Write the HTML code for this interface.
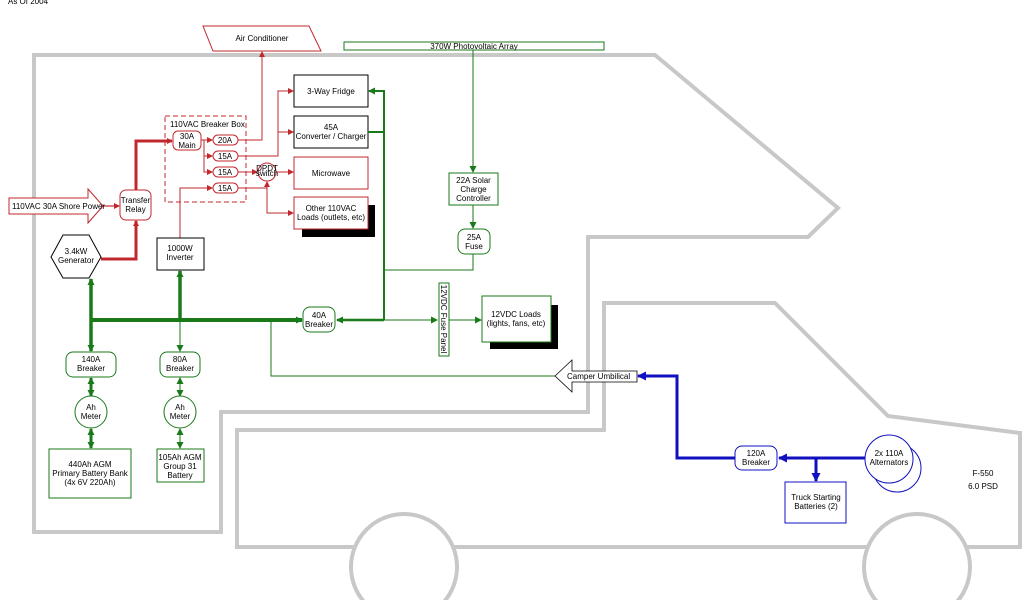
<!DOCTYPE html>
<html><head><meta charset="utf-8"><style>
html,body{margin:0;padding:0;background:#fff;width:1024px;height:600px;overflow:hidden}
svg{display:block}
text{font-family:"Liberation Sans",sans-serif;font-size:8px;fill:#000}
</style></head><body>
<svg width="1024" height="600" viewBox="0 0 1024 600">
<defs>
<marker id="ar" markerWidth="6" markerHeight="6" refX="5" refY="3" orient="auto" markerUnits="userSpaceOnUse"><path d="M0,0 L6,3 L0,6z" fill="#c0282d"/></marker>
<marker id="ag" markerWidth="7" markerHeight="7" refX="6" refY="3.5" orient="auto" markerUnits="userSpaceOnUse"><path d="M0,0 L7,3.5 L0,7z" fill="#1a7a1a"/></marker>
<marker id="ab" markerWidth="9" markerHeight="9" refX="8" refY="4.5" orient="auto" markerUnits="userSpaceOnUse"><path d="M0,0 L9,4.5 L0,9z" fill="#1010c0"/></marker>
</defs>
<text x="8" y="4" font-size="10">As Of 2004</text>
<g fill="none" stroke="#c8c8c8" stroke-width="4">
<path d="M34,55 L655,55 L838,208 L808,237 L588,237 L588,412 L221,412 L221,532 L34,532 Z"/>
<path d="M237,430 L604,430 L604,303 L775,303 L888,416 L1020,433 L1020,547 L237,547 Z"/>
</g>
<circle cx="404" cy="567" r="53" fill="#fff" stroke="#c8c8c8" stroke-width="4"/>
<circle cx="917" cy="567" r="53" fill="#fff" stroke="#c8c8c8" stroke-width="4"/>
<g fill="none" stroke="#c0282d">
<path d="M103,206 L119,206" stroke-width="1.2" marker-end="url(#ar)"/>
<path d="M101,259 L136,259 L136,221" stroke-width="3" marker-end="url(#ar)"/>
<path d="M136,190 L136,141 L172,141" stroke-width="3" marker-end="url(#ar)"/>
<path d="M201,140 L212,140" marker-end="url(#ar)"/>
<path d="M204,140 L204,172 L212,172" marker-end="url(#ar)"/>
<path d="M204,156 L212,156" marker-end="url(#ar)"/>
<path d="M238,140 L262,140 L262,52" marker-end="url(#ar)"/>
<path d="M238,156 L278,156 L278,91 L293,91" marker-end="url(#ar)"/>
<path d="M278,132 L293,132" marker-end="url(#ar)"/>
<path d="M238,172 L257,172" marker-end="url(#ar)"/>
<path d="M276,172 L293,172" marker-end="url(#ar)"/>
<path d="M180,238 L180,188 L212,188" marker-end="url(#ar)"/>
<path d="M238,188 L267,188 L267,182" marker-end="url(#ar)"/>
<path d="M267,188 L267,213 L293,213" marker-end="url(#ar)"/>
</g>
<polygon points="203,26 309,26 321,51 213,51" fill="#fff" stroke="#c0282d"/>
<text x="262" y="41" text-anchor="middle">Air Conditioner</text>
<rect x="165" y="116" width="81" height="86" fill="none" stroke="#c0282d" stroke-dasharray="5,3"/>
<text x="170" y="127">110VAC Breaker Box</text>
<rect x="173" y="131" width="28" height="19" rx="5" fill="#fff" stroke="#c0282d"/>
<text x="187" y="139" text-anchor="middle">30A</text><text x="187" y="148" text-anchor="middle">Main</text>
<g fill="#fff" stroke="#c0282d">
<rect x="213" y="135" width="25" height="10" rx="5"/><rect x="213" y="151" width="25" height="10" rx="5"/>
<rect x="213" y="167" width="25" height="10" rx="5"/><rect x="213" y="183" width="25" height="10" rx="5"/>
</g>
<text x="225" y="143" text-anchor="middle">20A</text><text x="225" y="159" text-anchor="middle">15A</text>
<text x="225" y="175" text-anchor="middle">15A</text><text x="225" y="191" text-anchor="middle">15A</text>
<path d="M9,198 L88,198 L88,189 L103,206 L88,223 L88,214 L9,214 Z" fill="#fff" stroke="#c0282d"/>
<text x="12" y="209" font-size="7.6">110VAC 30A Shore Power</text>
<rect x="120" y="190" width="31" height="30" rx="6" fill="#fff" stroke="#c0282d"/>
<text x="135.5" y="203" text-anchor="middle" font-size="7.5">Transfer</text><text x="135.5" y="212" text-anchor="middle" font-size="7.5">Relay</text>
<circle cx="267" cy="172" r="9" fill="#fff" stroke="#c0282d"/>
<text x="267" y="171" text-anchor="middle" font-size="4">DPDT</text><text x="267" y="176" text-anchor="middle" font-size="4">switch</text>
<rect x="294" y="75" width="74" height="32" fill="#fff" stroke="#000"/>
<text x="331" y="94" text-anchor="middle">3-Way Fridge</text>
<rect x="294" y="116" width="74" height="32" fill="#fff" stroke="#000"/>
<text x="331" y="130" text-anchor="middle">45A</text><text x="331" y="139" text-anchor="middle">Converter / Charger</text>
<rect x="294" y="157" width="74" height="32" fill="#fff" stroke="#c0282d"/>
<text x="331" y="176" text-anchor="middle">Microwave</text>
<rect x="302" y="205" width="73" height="32" fill="#000"/>
<rect x="294" y="197" width="74" height="32" fill="#fff" stroke="#c0282d"/>
<text x="331" y="211" text-anchor="middle">Other 110VAC</text><text x="331" y="220" text-anchor="middle">Loads (outlets, etc)</text>
<polygon points="63,235 89,235 101,257 89,278 63,278 51,257" fill="#fff" stroke="#000"/>
<text x="76" y="254" text-anchor="middle">3.4kW</text><text x="76" y="263" text-anchor="middle">Generator</text>
<rect x="157" y="238" width="47" height="32" fill="#fff" stroke="#000"/>
<text x="180" y="251" text-anchor="middle">1000W</text><text x="180" y="260" text-anchor="middle">Inverter</text>
<g fill="none" stroke="#1a7a1a">
<path d="M473,50 L473,172" marker-end="url(#ag)"/>
<path d="M473,205 L473,228" marker-end="url(#ag)"/>
<path d="M473,254 L473,270 L384,270"/>
<path d="M368,132 L384,132" stroke-width="2"/>
<path d="M384,320 L384,91 L369,91" stroke-width="2" marker-end="url(#ag)"/>
<path d="M384,320 L337,320" stroke-width="2.5" marker-end="url(#ag)"/>
<path d="M384,320 L437,320" marker-end="url(#ag)"/>
<path d="M449,320 L481,320" marker-end="url(#ag)"/>
<path d="M91,320 L302,320" stroke-width="4" marker-end="url(#ag)"/>
<path d="M91,320 L91,279" stroke-width="3.5" marker-end="url(#ag)"/>
<path d="M91,320 L91,351" stroke-width="3.5" marker-end="url(#ag)"/>
<path d="M180,320 L180,271" stroke-width="3.5" marker-end="url(#ag)"/>
<path d="M180,320 L180,351" marker-end="url(#ag)"/>
<path d="M91,388 L91,378" stroke-width="3" marker-end="url(#ag)"/>
<path d="M91,386 L91,396" stroke-width="3" marker-end="url(#ag)"/>
<path d="M91,438 L91,429" stroke-width="3" marker-end="url(#ag)"/>
<path d="M91,436 L91,448" stroke-width="3" marker-end="url(#ag)"/>
<path d="M180,388 L180,378" marker-end="url(#ag)"/>
<path d="M180,386 L180,396" marker-end="url(#ag)"/>
<path d="M180,438 L180,429" marker-end="url(#ag)"/>
<path d="M180,436 L180,448" marker-end="url(#ag)"/>
<path d="M271,320 L271,376 L555,376"/>
</g>
<rect x="344" y="42" width="260" height="8" fill="#fff" stroke="#1a7a1a"/>
<text x="474" y="49" text-anchor="middle">370W Photovoltaic Array</text>
<rect x="449" y="173" width="49" height="32" fill="#fff" stroke="#1a7a1a"/>
<text x="473.5" y="183" text-anchor="middle">22A Solar</text><text x="473.5" y="192" text-anchor="middle">Charge</text><text x="473.5" y="201" text-anchor="middle">Controller</text>
<rect x="458" y="229" width="32" height="25" rx="7" fill="#fff" stroke="#1a7a1a"/>
<text x="474" y="240" text-anchor="middle">25A</text><text x="474" y="249" text-anchor="middle">Fuse</text>
<rect x="303" y="307" width="32" height="25" rx="7" fill="#fff" stroke="#1a7a1a"/>
<text x="319" y="318" text-anchor="middle">40A</text><text x="319" y="327" text-anchor="middle">Breaker</text>
<rect x="439" y="283" width="10" height="73" fill="#fff" stroke="#1a7a1a"/>
<text transform="translate(441,319) rotate(90)" text-anchor="middle">12VDC Fuse Panel</text>
<rect x="490" y="305" width="68" height="44" fill="#000"/>
<rect x="482" y="296" width="69" height="46" fill="#fff" stroke="#1a7a1a"/>
<text x="516" y="317" text-anchor="middle">12VDC Loads</text><text x="516" y="326" text-anchor="middle">(lights, fans, etc)</text>
<rect x="66" y="352" width="50" height="25" rx="7" fill="#fff" stroke="#1a7a1a"/>
<text x="91" y="362" text-anchor="middle">140A</text><text x="91" y="371" text-anchor="middle">Breaker</text>
<rect x="160" y="352" width="40" height="25" rx="7" fill="#fff" stroke="#1a7a1a"/>
<text x="180" y="362" text-anchor="middle">80A</text><text x="180" y="371" text-anchor="middle">Breaker</text>
<ellipse cx="91" cy="412" rx="16" ry="16" fill="#fff" stroke="#1a7a1a"/>
<text x="91" y="410" text-anchor="middle">Ah</text><text x="91" y="419" text-anchor="middle">Meter</text>
<ellipse cx="180" cy="412" rx="16" ry="16" fill="#fff" stroke="#1a7a1a"/>
<text x="180" y="410" text-anchor="middle">Ah</text><text x="180" y="419" text-anchor="middle">Meter</text>
<rect x="49" y="449" width="82" height="49" fill="#fff" stroke="#1a7a1a"/>
<text x="90" y="467" text-anchor="middle">440Ah AGM</text><text x="90" y="476" text-anchor="middle">Primary Battery Bank</text><text x="90" y="485" text-anchor="middle">(4x 6V 220Ah)</text>
<rect x="157" y="449" width="47" height="33" fill="#fff" stroke="#1a7a1a"/>
<text x="180" y="460" text-anchor="middle">105Ah AGM</text><text x="180" y="469" text-anchor="middle">Group 31</text><text x="180" y="478" text-anchor="middle">Battery</text>
<path d="M555,376 L572,360 L572,371 L637,371 L637,382 L572,382 L572,392 Z" fill="#fff" stroke="#000" stroke-width="0.8"/>
<text x="567" y="379">Camper Umbilical</text>
<g fill="none" stroke="#1010c0" stroke-width="3">
<path d="M735,458 L677,458 L677,376 L638,376" marker-end="url(#ab)"/>
<path d="M865,458 L779,458" marker-end="url(#ab)"/>
<path d="M816,458 L816,481" marker-end="url(#ab)"/>
</g>
<rect x="735" y="446" width="42" height="24" rx="7" fill="#fff" stroke="#1010c0"/>
<text x="756" y="456" text-anchor="middle">120A</text><text x="756" y="465" text-anchor="middle">Breaker</text>
<rect x="785" y="482" width="61" height="41" fill="#fff" stroke="#1010c0"/>
<text x="816" y="500" text-anchor="middle">Truck Starting</text><text x="816" y="509" text-anchor="middle">Batteries  (2)</text>
<circle cx="897" cy="468" r="24" fill="#fff" stroke="#1010c0"/>
<circle cx="889" cy="459" r="24" fill="#fff" stroke="#1010c0"/>
<text x="889" y="456" text-anchor="middle">2x 110A</text><text x="889" y="465" text-anchor="middle">Alternators</text>
<text x="983" y="476" text-anchor="middle" font-size="12">F-550</text>
<text x="983" y="489" text-anchor="middle" font-size="12">6.0 PSD</text>
</svg>
</body></html>
